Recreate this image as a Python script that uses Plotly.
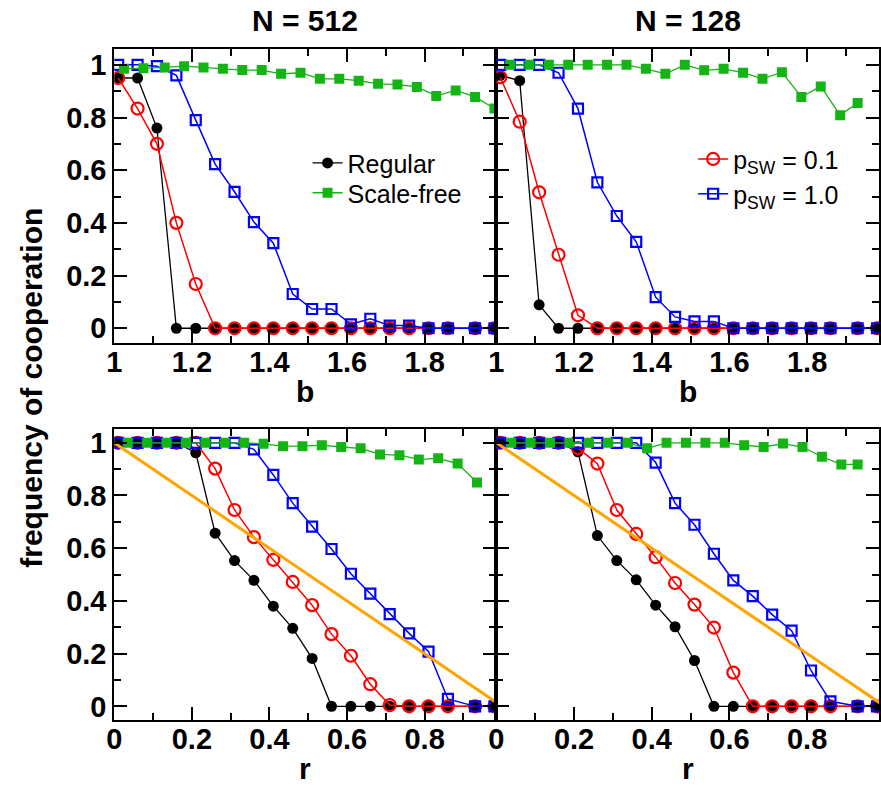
import plotly.graph_objects as go

# ---------------- data ----------------
B_MAIN = [1.01, 1.06, 1.11, 1.16, 1.21, 1.26, 1.31, 1.36, 1.41, 1.46,
          1.51, 1.56, 1.61, 1.66, 1.71, 1.76, 1.81, 1.86, 1.93, 1.98]
B_SF_512 = [1.025, 1.075, 1.13, 1.18, 1.23, 1.28, 1.33, 1.38, 1.43, 1.48,
            1.53, 1.58, 1.63, 1.68, 1.73, 1.78, 1.83, 1.88, 1.93, 1.98]
B_SF_128 = [1.035, 1.085, 1.135, 1.185, 1.235, 1.285, 1.335, 1.385, 1.435, 1.485,
            1.535, 1.585, 1.635, 1.685, 1.735, 1.785, 1.835, 1.885, 1.93]

R_MAIN = [0.01, 0.06, 0.11, 0.16, 0.21, 0.26, 0.31, 0.36, 0.41, 0.46,
          0.51, 0.56, 0.61, 0.66, 0.71, 0.76, 0.81, 0.86, 0.93, 0.98]
R_SF_512 = [0.035, 0.085, 0.135, 0.185, 0.235, 0.285, 0.335, 0.385, 0.435, 0.485,
            0.535, 0.585, 0.635, 0.685, 0.735, 0.785, 0.835, 0.885, 0.935]
R_SF_128 = [0.038, 0.088, 0.138, 0.188, 0.238, 0.288, 0.338, 0.388, 0.438, 0.488,
            0.538, 0.588, 0.638, 0.688, 0.738, 0.788, 0.838, 0.888, 0.93]

# N = 512, vs b
B512_REG = [0.95, 0.95, 0.76, 0, 0, 0, 0, 0, 0, 0, 0, 0, 0, 0, 0, 0, 0, 0, 0, 0]
B512_P01 = [0.95, 0.834, 0.70, 0.40, 0.168, 0, 0, 0, 0, 0, 0, 0, 0, 0, 0, 0, 0, 0, 0, 0]
B512_P10 = [1.0, 1.0, 0.995, 0.96, 0.79, 0.623, 0.518, 0.403, 0.323, 0.13,
            0.073, 0.073, 0.015, 0.036, 0.01, 0.01, 0, 0, 0, 0]
B512_SF = [0.985, 0.987, 0.99, 0.995, 0.99, 0.985, 0.98, 0.98, 0.966, 0.97,
           0.947, 0.947, 0.94, 0.928, 0.925, 0.916, 0.882, 0.903, 0.878, 0.834]

# N = 128, vs b
B128_REG = [0.96, 0.94, 0.089, 0, 0, 0, 0, 0, 0, 0, 0, 0, 0, 0, 0, 0, 0, 0, 0, 0]
B128_P01 = [0.953, 0.784, 0.516, 0.279, 0.049, 0, 0, 0, 0, 0, 0, 0, 0, 0, 0, 0, 0, 0, 0, 0]
B128_P10 = [1.0, 1.0, 1.0, 0.97, 0.834, 0.554, 0.426, 0.328, 0.118, 0.043,
            0.026, 0.026, 0, 0, 0, 0, 0, 0, 0, 0]
B128_SF = [1.0, 1.0, 1.0, 1.0, 1.0, 1.0, 1.0, 0.985, 0.966, 1.0,
           0.979, 0.985, 0.97, 0.947, 0.972, 0.878, 0.918, 0.809, 0.855]

# N = 512, vs r
R512_REG = [1, 1, 1, 1, 0.962, 0.657, 0.553, 0.478, 0.38, 0.296,
            0.182, 0, 0, 0, 0, 0, 0, 0, 0, 0]
R512_P01 = [1, 1, 1, 1, 1, 0.902, 0.745, 0.642, 0.556, 0.472,
            0.384, 0.274, 0.192, 0.084, 0.005, 0, 0, 0, 0, 0]
R512_P10 = [1, 1, 1, 1, 1, 1, 1, 0.975, 0.878, 0.771,
            0.682, 0.597, 0.503, 0.428, 0.35, 0.277, 0.208, 0.028, 0, 0]
R512_SF = [1, 1, 1, 1, 1, 1, 1, 0.996, 0.987, 0.987,
           0.991, 0.984, 0.979, 0.956, 0.953, 0.937, 0.941, 0.921, 0.849]

# N = 128, vs r
R128_REG = [1, 1, 1, 1, 0.966, 0.648, 0.553, 0.48, 0.384, 0.302,
            0.174, 0, 0, 0, 0, 0, 0, 0, 0, 0]
R128_P01 = [1, 1, 1, 1, 0.98, 0.921, 0.745, 0.654, 0.566, 0.468,
            0.386, 0.299, 0.128, 0, 0, 0, 0, 0, 0, 0]
R128_P10 = [1, 1, 1, 1, 1, 1, 1, 1, 0.925, 0.771,
            0.689, 0.579, 0.478, 0.418, 0.348, 0.287, 0.136, 0.019, 0, 0]
R128_SF = [1, 1, 1, 1, 1, 1, 1, 0.979, 1, 1,
           1, 1, 0.991, 0.984, 0.997, 0.984, 0.947, 0.918, 0.918]

# reference line f = 1 - r
LINE_R = [0, 1]
LINE_F = [1, 0]

TITLES = ["N = 512", "N = 128"]
NAMES = ["Regular", "Scale-free", "p<sub>SW</sub> = 0.1", "p<sub>SW</sub> = 1.0"]

# ---------------- styling ----------------
W, H = 881, 785
BLACK = "#000000"
RED = "#ff0000"
BLUE = "#0000ff"
GREEN = "#14b414"
ORANGE = "#ffa500"
FONT = "Liberation Sans, Arial, sans-serif"

fig = go.Figure()


def add_panel(n, xs, xsf, reg, p01, p10, sf, legend_on):
    xa = "x" if n == 1 else f"x{n}"
    ya = "y" if n == 1 else f"y{n}"
    fig.add_trace(go.Scatter(
        x=xs, y=reg, mode="lines+markers", name=NAMES[0], xaxis=xa, yaxis=ya,
        line=dict(color=BLACK, width=1.3),
        marker=dict(symbol="circle", size=11, color=BLACK),
        showlegend=legend_on, legend="legend"))
    fig.add_trace(go.Scatter(
        x=xs, y=p01, mode="lines+markers", name=NAMES[2], xaxis=xa, yaxis=ya,
        line=dict(color=RED, width=1.5),
        marker=dict(symbol="circle-open", size=12, color=RED, line=dict(width=2.2, color=RED)),
        showlegend=legend_on, legend="legend3"))
    fig.add_trace(go.Scatter(
        x=xs, y=p10, mode="lines+markers", name=NAMES[3], xaxis=xa, yaxis=ya,
        line=dict(color=BLUE, width=1.5),
        marker=dict(symbol="square-open", size=10, color=BLUE, line=dict(width=2.2, color=BLUE)),
        showlegend=legend_on, legend="legend4"))
    fig.add_trace(go.Scatter(
        x=xsf, y=sf, mode="lines+markers", name=NAMES[1], xaxis=xa, yaxis=ya,
        line=dict(color=GREEN, width=1.3),
        marker=dict(symbol="square", size=10, color=GREEN),
        showlegend=legend_on, legend="legend2"))


add_panel(1, B_MAIN, B_SF_512, B512_REG, B512_P01, B512_P10, B512_SF, True)
add_panel(2, B_MAIN, B_SF_128, B128_REG, B128_P01, B128_P10, B128_SF, False)
add_panel(3, R_MAIN, R_SF_512, R512_REG, R512_P01, R512_P10, R512_SF, False)
add_panel(4, R_MAIN, R_SF_128, R128_REG, R128_P01, R128_P10, R128_SF, False)

for xa, ya in [("x3", "y3"), ("x4", "y4")]:
    fig.add_trace(go.Scatter(x=LINE_R, y=LINE_F, mode="lines", xaxis=xa, yaxis=ya,
                             line=dict(color=ORANGE, width=3), showlegend=False,
                             hoverinfo="skip"))


def px_x(p):
    return p / W


def px_y(p):
    return 1 - p / H


def axis_style(rng, dom, anchor, labels=True, standoff=0):
    return dict(
        range=rng, domain=dom, anchor=anchor,
        showline=True, linecolor=BLACK, linewidth=2, mirror="allticks",
        ticks="inside", ticklen=13, tickwidth=1.5, tickcolor=BLACK,
        dtick=0.2, tick0=0,
        minor=dict(dtick=0.1, ticks="inside", ticklen=7, tickwidth=1.5,
                   tickcolor=BLACK, showgrid=False),
        showgrid=False, zeroline=False, showticklabels=labels,
        ticklabelstandoff=standoff,
        tickfont=dict(family=FONT, size=29, color=BLACK, weight="bold"),
    )


XL = [px_x(107.5), px_x(494)]
XR = [px_x(494), px_x(881)]
YT = [px_y(343), px_y(47)]
YB = [px_y(722), px_y(429)]


def legend_box(xpx, ypx):
    return dict(x=px_x(xpx), y=px_y(ypx), xanchor="left", yanchor="middle",
                bgcolor="rgba(0,0,0,0)", borderwidth=0,
                font=dict(family=FONT, size=25, color=BLACK))


layout = dict(
    width=W, height=H,
    margin=dict(l=0, r=0, t=0, b=0),
    paper_bgcolor="white", plot_bgcolor="white",
    xaxis=axis_style([1, 1.985], XL, "y", standoff=-8),
    yaxis=axis_style([-0.057, 1.061], YT, "x"),
    xaxis2=axis_style([1, 1.985], XR, "y2", standoff=-8),
    yaxis2=axis_style([-0.057, 1.061], YT, "x2", labels=False),
    xaxis3=axis_style([0, 0.985], XL, "y3", standoff=-8),
    yaxis3=axis_style([-0.053, 1.053], YB, "x3"),
    xaxis4=axis_style([0, 0.985], XR, "y4", standoff=-8),
    yaxis4=axis_style([-0.053, 1.053], YB, "x4", labels=False),
    legend=legend_box(303, 162),
    legend2=legend_box(303, 192),
    legend3=legend_box(693, 158),
    legend4=legend_box(693, 193),
    showlegend=True,
)
fig.update_layout(**layout)

ann_font = dict(family=FONT, size=30, color=BLACK, weight="bold")
annotations = [
    dict(text=TITLES[0], x=px_x(300), y=px_y(19), xref="paper", yref="paper",
         showarrow=False, font=ann_font, xanchor="center", yanchor="middle"),
    dict(text=TITLES[1], x=px_x(688), y=px_y(19), xref="paper", yref="paper",
         showarrow=False, font=ann_font, xanchor="center", yanchor="middle"),
    dict(text="b", x=px_x(300), y=px_y(391), xref="paper", yref="paper",
         showarrow=False, font=ann_font, xanchor="center", yanchor="middle"),
    dict(text="b", x=px_x(688), y=px_y(391), xref="paper", yref="paper",
         showarrow=False, font=ann_font, xanchor="center", yanchor="middle"),
    dict(text="r", x=px_x(300), y=px_y(770), xref="paper", yref="paper",
         showarrow=False, font=ann_font, xanchor="center", yanchor="middle"),
    dict(text="r", x=px_x(688), y=px_y(770), xref="paper", yref="paper",
         showarrow=False, font=ann_font, xanchor="center", yanchor="middle"),
    dict(text="frequency of cooperation", x=px_x(23), y=px_y(388), xref="paper", yref="paper",
         showarrow=False, textangle=-90,
         font=dict(family=FONT, size=30, color=BLACK, weight="bold"),
         xanchor="center", yanchor="middle"),
]
fig.update_layout(annotations=annotations)

fig.write_html("out.html", config={"displayModeBar": False},
               post_script="document.body.style.margin='0px';")
